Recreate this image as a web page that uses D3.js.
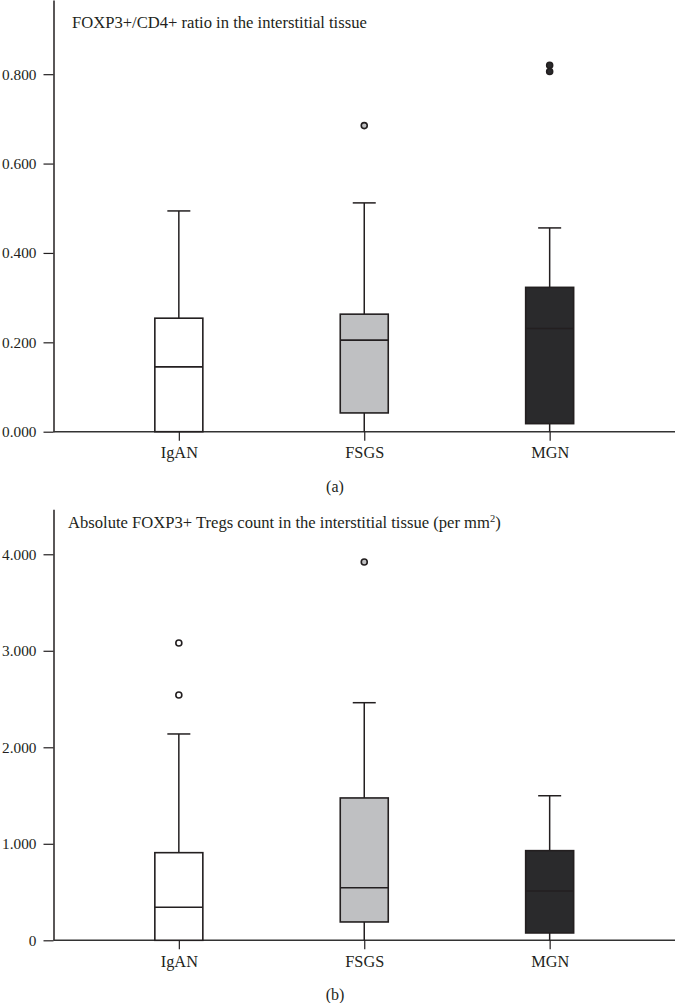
<!DOCTYPE html>
<html>
<head>
<meta charset="utf-8">
<script src="https://cdn.jsdelivr.net/npm/d3@7"></script>
<style>
  html, body { margin: 0; padding: 0; background: #fff; }
  svg { display: block; }
  text { font-family: "Liberation Serif", "Times New Roman", serif; fill: #231f20; }
</style>
</head>
<body>
<svg id="chart" width="675" height="1003"></svg>
<script>
// ---- Data ----
const categories = ["IgAN", "FSGS", "MGN"];
const fills = ["#ffffff", "#bfc0c2", "#2a2a2c"];

// Panel (a): FOXP3+/CD4+ ratio
const ratioLow     = [0.000, 0.000, 0.000];
const ratioQ1      = [0.000, 0.042, 0.018];
const ratioMedian  = [0.145, 0.205, 0.231];
const ratioQ3      = [0.254, 0.263, 0.323];
const ratioHigh    = [0.494, 0.512, 0.456];
const ratioOutliers = [[], [0.685], [0.806, 0.820]];
const ratioTicks   = [0, 0.2, 0.4, 0.6, 0.8];

// Panel (b): absolute FOXP3+ Tregs count
const countLow     = [0.000, 0.000, 0.000];
const countQ1      = [0.000, 0.190, 0.076];
const countMedian  = [0.342, 0.545, 0.511];
const countQ3      = [0.908, 1.475, 0.929];
const countHigh    = [2.138, 2.462, 1.498];
const countOutliers = [[2.542, 3.081], [3.920], []];
const countTicks   = [0, 1, 2, 3, 4];

const svg = d3.select("#chart");
const W = 675;
const axisX = 53.5;
const boxW = 48;
const capW = 23;
const ink = "#231f20";

const x = d3.scalePoint().domain(categories).range([axisX, W]).padding(0.676);

function panel(cfg) {
  const g = svg.append("g");
  const y = d3.scaleLinear().domain(cfg.domain).range(cfg.range);
  const y0 = y(0);

  // y axis
  const ax = g.append("g")
    .attr("transform", `translate(${axisX},0)`)
    .call(d3.axisLeft(y).tickValues(cfg.ticks).tickFormat(cfg.fmt)
      .tickSize(10).tickSizeOuter(0).tickPadding(7));
  ax.select(".domain").attr("stroke", ink).attr("stroke-width", 1.5);
  ax.selectAll(".tick line").attr("stroke", ink).attr("stroke-width", 1.2);
  ax.selectAll(".tick text").attr("font-size", 15.3)
    .style("font-family", "'Liberation Serif', serif").attr("fill", ink);

  // x axis
  const xa = g.append("g").attr("transform", `translate(0,${y0})`)
    .call(d3.axisBottom(x).tickSize(9).tickSizeOuter(0).tickPadding(6));
  xa.select(".domain").attr("d", `M${axisX},0H${W}`).attr("stroke", "#333").attr("stroke-width", 1.5);
  xa.selectAll(".tick line").attr("stroke", ink).attr("stroke-width", 1.2);
  xa.selectAll(".tick text").attr("font-size", 16.3)
    .style("font-family", "'Liberation Serif', serif").attr("fill", ink);

  // boxes
  categories.forEach((c, i) => {
    const cx = x(c);
    const bg = g.append("g");
    // whiskers
    bg.append("line").attr("x1", cx).attr("x2", cx)
      .attr("y1", y(cfg.q3[i])).attr("y2", y(cfg.high[i]))
      .attr("stroke", ink).attr("stroke-width", 1.5);
    bg.append("line").attr("x1", cx - capW / 2).attr("x2", cx + capW / 2)
      .attr("y1", y(cfg.high[i])).attr("y2", y(cfg.high[i]))
      .attr("stroke", ink).attr("stroke-width", 1.5);
    if (cfg.q1[i] > cfg.low[i]) {
      bg.append("line").attr("x1", cx).attr("x2", cx)
        .attr("y1", y(cfg.low[i])).attr("y2", y(cfg.q1[i]))
        .attr("stroke", ink).attr("stroke-width", 1.5);
    }
    // box
    bg.append("rect")
      .attr("x", cx - boxW / 2).attr("width", boxW)
      .attr("y", y(cfg.q3[i])).attr("height", y(cfg.q1[i]) - y(cfg.q3[i]))
      .attr("fill", fills[i]).attr("stroke", ink).attr("stroke-width", 1.6);
    // median
    bg.append("line").attr("x1", cx - boxW / 2).attr("x2", cx + boxW / 2)
      .attr("y1", y(cfg.median[i])).attr("y2", y(cfg.median[i]))
      .attr("stroke", ink).attr("stroke-width", 1.6);
    // outliers
    bg.selectAll("circle").data(cfg.outliers[i]).join("circle")
      .attr("cx", cx).attr("cy", d => y(d)).attr("r", 3)
      .attr("fill", fills[i]).attr("stroke", ink).attr("stroke-width", 1.6);
  });

  // title
  const t = g.append("text").attr("x", cfg.titleX).attr("y", cfg.titleY)
    .attr("font-size", 16.6);
  cfg.title(t);

  // panel label
  g.append("text").attr("x", 335).attr("y", cfg.labelY)
    .attr("text-anchor", "middle").attr("font-size", 16).text(cfg.label);
}

panel({
  domain: [0, 0.966], range: [431.7, 0],
  ticks: ratioTicks, fmt: d3.format(".3f"),
  low: ratioLow, q1: ratioQ1, median: ratioMedian, q3: ratioQ3, high: ratioHigh,
  outliers: ratioOutliers,
  titleX: 72, titleY: 28,
  title: t => t.text("FOXP3+/CD4+ ratio in the interstitial tissue"),
  label: "(a)", labelY: 492
});

panel({
  domain: [0, 4.466], range: [940.3, 509.3],
  ticks: countTicks, fmt: d => d === 0 ? "0" : d3.format(".3f")(d),
  low: countLow, q1: countQ1, median: countMedian, q3: countQ3, high: countHigh,
  outliers: countOutliers,
  titleX: 68, titleY: 528,
  title: t => {
    t.append("tspan").text("Absolute FOXP3+ Tregs count in the interstitial tissue (per mm");
    t.append("tspan").attr("font-size", 10.5).attr("dy", -6).text("2");
    t.append("tspan").attr("dy", 6).text(")");
  },
  label: "(b)", labelY: 1000
});
</script>
</body>
</html>
